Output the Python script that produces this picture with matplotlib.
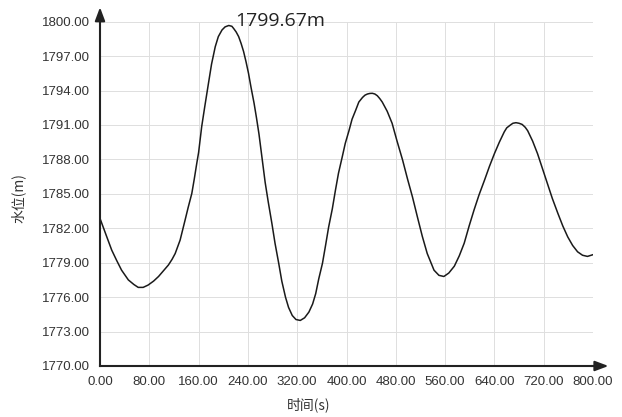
import matplotlib
matplotlib.use("Agg")
import matplotlib.pyplot as plt

# 时间(s) 与 水位(m)
t = [0, 10, 19, 27, 35, 46, 55, 62, 70, 78, 87, 95, 103, 111, 117, 122, 130, 138,
     143, 149, 153, 157, 160, 165, 170, 176, 181, 187, 192, 198, 203, 209, 214, 217,
     221, 225, 229, 233, 237, 241, 245, 250, 254, 258, 263, 268, 273, 279, 284, 290,
     295, 301, 306, 312, 318, 325, 332, 339, 345, 350, 355, 361, 366, 371, 377, 382,
     387, 393, 398, 404, 409, 415, 420, 426, 430, 434, 438, 442, 446, 450, 454, 458,
     466, 474, 482, 491, 499, 507, 515, 523, 531, 542, 550, 558, 566, 575, 583, 591,
     599, 607, 615, 624, 632, 640, 648, 656, 660, 666, 670, 675, 680, 685, 690, 694,
     702, 710, 718, 726, 734, 743, 751, 759, 767, 775, 783, 791, 800]
h = [1782.86, 1781.4, 1780.1, 1779.2, 1778.35, 1777.5, 1777.1, 1776.85, 1776.85, 1777.05,
     1777.4, 1777.8, 1778.3, 1778.8, 1779.3, 1779.8, 1780.97, 1782.7,
     1783.8, 1785.04, 1786.3, 1787.65, 1788.6, 1790.85, 1792.6, 1794.63, 1796.3, 1797.82,
     1798.7, 1799.28, 1799.55, 1799.67, 1799.6, 1799.4,
     1799.1, 1798.7, 1798.1, 1797.4, 1796.5, 1795.5, 1794.3, 1792.9, 1791.6, 1790.2,
     1788.1, 1786.0, 1784.3, 1782.4, 1780.7, 1778.95,
     1777.4, 1776.0, 1775.1, 1774.4, 1774.05, 1773.97, 1774.2, 1774.7, 1775.4, 1776.3,
     1777.6, 1778.95, 1780.5, 1782.1, 1783.7, 1785.3,
     1786.8, 1788.2, 1789.4, 1790.5, 1791.5, 1792.3, 1793.0, 1793.4, 1793.6, 1793.7,
     1793.75, 1793.76, 1793.7, 1793.55, 1793.3, 1793.0,
     1792.2, 1791.15, 1789.6, 1787.95, 1786.3, 1784.74, 1783.0, 1781.3, 1779.8, 1778.35,
     1777.9, 1777.8, 1778.1, 1778.7, 1779.6, 1780.7,
     1782.2, 1783.6, 1784.9, 1786.2, 1787.4, 1788.5, 1789.5, 1790.4, 1790.75, 1791.0,
     1791.15, 1791.2, 1791.15, 1791.05, 1790.8, 1790.5,
     1789.6, 1788.5, 1787.2, 1785.9, 1784.6, 1783.3, 1782.2, 1781.25, 1780.5, 1779.95,
     1779.65, 1779.55, 1779.7]

xticks = [0, 80, 160, 240, 320, 400, 480, 560, 640, 720, 800]
yticks = [1770, 1773, 1776, 1779, 1782, 1785, 1788, 1791, 1794, 1797, 1800]
peak_label = "1799.67m"

fig = plt.figure(figsize=(6.22, 4.17), dpi=100)
ax = fig.add_axes([100 / 622, 51 / 417, 493 / 622, 344.3 / 417])

ax.plot(t, h, color="#1a1a1a", lw=1.1, solid_joinstyle="round")

ax.set_xlim(0, 800)
ax.set_ylim(1770, 1800)
ax.set_xticks(xticks)
ax.set_yticks(yticks)
ax.set_xticklabels(["%.2f" % v for v in xticks])
ax.set_yticklabels(["%.2f" % v for v in yticks])
ax.tick_params(length=0, pad=7, labelcolor="#333333")
for lab in ax.get_xticklabels() + ax.get_yticklabels():
    lab.set_family(["Liberation Sans Narrow", "Liberation Sans", "DejaVu Sans"])
    lab.set_fontsize(9.5)

ax.grid(True, color="#dedede", lw=0.7)
ax.set_axisbelow(True)
for s in ["top", "right"]:
    ax.spines[s].set_visible(False)
for s in ["left", "bottom"]:
    ax.spines[s].set_linewidth(1.5)
    ax.spines[s].set_color("#222222")

# axis arrows
ax.annotate("", xy=(0, 1.05), xytext=(0, 0.99), xycoords="axes fraction",
            arrowprops=dict(arrowstyle="-|>,head_width=0.3,head_length=0.8",
                            color="#222222", lw=1.5), annotation_clip=False)
ax.annotate("", xy=(1.037, 0), xytext=(0.99, 0), xycoords="axes fraction",
            arrowprops=dict(arrowstyle="-|>,head_width=0.3,head_length=0.8",
                            color="#222222", lw=1.5), annotation_clip=False)

cjk = ["Noto Sans CJK SC", "DejaVu Sans"]
fig.text(18 / 622, 1 - 198 / 417, "水位(m)", rotation=90, ha="center", va="center",
         fontsize=10, family=cjk, color="#333333")
fig.text(309 / 622, 1 - 405 / 417, "时间(s)", ha="center", va="center",
         fontsize=10, family=cjk, color="#333333")
fig.text(235 / 622, 1 - 26 / 417, peak_label, ha="left", va="baseline",
         fontsize=14, family=["Open Sans", "DejaVu Sans"], color="#222222")

fig.savefig("out.png", dpi=100)
